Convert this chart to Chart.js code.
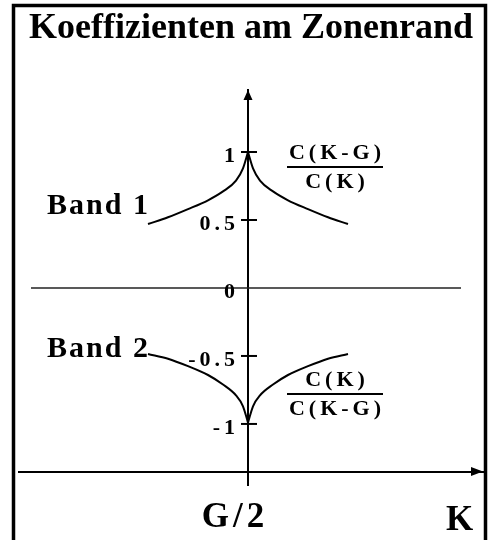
<!DOCTYPE html>
<html>
<head>
<meta charset="utf-8">
<style>
  html, body { margin: 0; padding: 0; background: #fff; }
  #wrap { width: 493px; height: 540px; }
</style>
</head>
<body>
<div id="wrap"><canvas id="myChart"></canvas></div>

<script src="https://cdn.jsdelivr.net/npm/chart.js"></script>

<script>
    // K relativ zum Zonenrand G/2 (links und rechts davon)
    const kLinks = [-1.0, -0.8, -0.6, -0.4, -0.25, -0.12, -0.05, 0];
    const kRechts = [0, 0.05, 0.12, 0.25, 0.4, 0.6, 0.8, 1.0];

    // Band 1: C(K-G)/C(K)
    const band1Links = [0.47, 0.52, 0.58, 0.645, 0.71, 0.79, 0.88, 1.0];
    const band1Rechts = [1.0, 0.88, 0.79, 0.71, 0.645, 0.58, 0.52, 0.47];

    // Band 2: C(K)/C(K-G)
    const band2Links = [-0.485, -0.52, -0.575, -0.64, -0.71, -0.79, -0.87, -0.99];
    const band2Rechts = [-0.99, -0.87, -0.79, -0.71, -0.64, -0.575, -0.52, -0.485];

    // Nulllinie
    const nullX = [-2.17, 2.13];
    const nullY = [0, 0];

    // Achsen
    const yTicks = [-1, -0.5, 0, 0.5, 1];
    const xTicks = [0];
    const xTickLabels = ['G/2'];
    const xAchseBei = -1.35;

    const serif = "'Liberation Serif', 'Times New Roman', serif";
    Chart.defaults.color = '#000';

    function punkte(xs, ys) {
        return xs.map(function (k, i) { return { x: k, y: ys[i] }; });
    }

    function kurve(xs, ys) {
        return {
            data: punkte(xs, ys),
            borderColor: '#000',
            borderWidth: 2,
            pointRadius: 0,
            fill: false,
            cubicInterpolationMode: 'monotone'
        };
    }

    function setzeTicks(werte) {
        return function (s) {
            s.ticks = werte.map(function (v) { return { value: v }; });
        };
    }

    function text(ctx, s, px, py, size, align, spacing) {
        ctx.font = 'bold ' + size + 'px ' + serif;
        ctx.textAlign = align;
        ctx.textBaseline = 'alphabetic';
        ctx.letterSpacing = (spacing || 0) + 'px';
        ctx.fillText(s, px, py);
        ctx.letterSpacing = '0px';
    }

    function bruch(ctx, oben, unten, cx, by) {
        ctx.lineWidth = 2;
        ctx.beginPath();
        ctx.moveTo(cx - 48, by);
        ctx.lineTo(cx + 48, by);
        ctx.stroke();
        text(ctx, oben, cx + 2, by - 8, 22, 'center', 4);
        text(ctx, unten, cx + 2, by + 21, 22, 'center', 4);
    }

    // Rahmen, Pfeilspitzen, Achsenstriche und Beschriftungen
    const zeichnung = {
        id: 'zeichnung',
        afterDatasetsDraw(chart) {
            // gesperrte Schrift fuer die Achsenbeschriftungen (ticks.z = 1)
            chart.ctx.letterSpacing = '4px';
        },
        afterDraw(chart) {
            const ctx = chart.ctx;
            const x = chart.scales.x;
            const y = chart.scales.y;
            const area = chart.chartArea;
            const x0 = x.getPixelForValue(0);
            const yA = y.getPixelForValue(xAchseBei);

            ctx.letterSpacing = '0px';
            ctx.save();
            ctx.strokeStyle = '#000';
            ctx.fillStyle = '#000';

            ctx.lineWidth = 3.5;
            ctx.beginPath();
            ctx.moveTo(13.5, chart.height + 2);
            ctx.lineTo(13.5, 5.5);
            ctx.lineTo(485.5, 5.5);
            ctx.lineTo(485.5, chart.height + 2);
            ctx.stroke();

            ctx.beginPath();
            ctx.moveTo(x0, area.top);
            ctx.lineTo(x0 - 4.5, area.top + 10);
            ctx.lineTo(x0 + 4.5, area.top + 10);
            ctx.closePath();
            ctx.fill();

            ctx.beginPath();
            ctx.moveTo(area.right, yA);
            ctx.lineTo(area.right - 12, yA - 4.5);
            ctx.lineTo(area.right - 12, yA + 4.5);
            ctx.closePath();
            ctx.fill();

            ctx.lineWidth = 2;
            y.ticks.forEach(function (t) {
                if (t.value === 0) return;
                const py = y.getPixelForValue(t.value);
                ctx.beginPath();
                ctx.moveTo(x0 - 7, py);
                ctx.lineTo(x0 + 9, py);
                ctx.stroke();
            });

            text(ctx, 'Band 1', x.getPixelForValue(-2.01), y.getPixelForValue(0.544), 30, 'left', 2);
            text(ctx, 'Band 2', x.getPixelForValue(-2.01), y.getPixelForValue(-0.507), 30, 'left', 2);
            bruch(ctx, 'C(K-G)', 'C(K)', x.getPixelForValue(0.87), y.getPixelForValue(0.89));
            bruch(ctx, 'C(K)', 'C(K-G)', x.getPixelForValue(0.87), y.getPixelForValue(-0.78));
            text(ctx, 'K', x.getPixelForValue(1.98), y.getPixelForValue(-1.78), 35, 'left', 0);

            ctx.restore();
        }
    };

    const ctx = document.getElementById('myChart');

    new Chart(ctx, {
        type: 'line',
        data: {
            datasets: [
                {
                    data: punkte(nullX, nullY),
                    borderColor: '#222',
                    borderWidth: 1.5,
                    pointRadius: 0
                },
                kurve(kLinks, band1Links),
                kurve(kRechts, band1Rechts),
                kurve(kLinks, band2Links),
                kurve(kRechts, band2Rechts)
            ]
        },
        options: {
            responsive: true,
            maintainAspectRatio: false,
            animation: false,
            events: [],
            layout: { padding: { left: 19, right: 10, top: 0, bottom: 55 } },
            plugins: {
                legend: { display: false },
                tooltip: { enabled: false },
                title: {
                    display: true,
                    text: 'Koeffizienten am Zonenrand',
                    color: '#000',
                    font: { family: serif, weight: 'bold', size: 36, lineHeight: 1.2 },
                    padding: { top: 7, bottom: 39.8 }
                }
            },
            scales: {
                x: {
                    type: 'linear',
                    min: -2.29,
                    max: 2.35,
                    position: { y: xAchseBei },
                    afterBuildTicks: setzeTicks(xTicks),
                    grid: { display: false, drawTicks: false },
                    border: { display: true, color: '#000', width: 2 },
                    ticks: {
                        z: 1,
                        autoSkip: false,
                        maxRotation: 0,
                        padding: 25,
                        labelOffset: -13,
                        font: { family: serif, weight: 'bold', size: 35 },
                        callback: function (v, i) { return xTickLabels[i]; }
                    }
                },
                y: {
                    type: 'linear',
                    min: -1.449,
                    max: 1.456,
                    position: { x: 0 },
                    afterBuildTicks: setzeTicks(yTicks),
                    grid: { display: false, drawTicks: false },
                    border: { display: true, color: '#000', width: 2 },
                    ticks: { display: false }
                },
                // Zahlen links neben der y-Achse
                yZahlen: {
                    axis: 'y',
                    type: 'linear',
                    min: -1.449,
                    max: 1.456,
                    position: { x: -0.09 },
                    afterBuildTicks: setzeTicks(yTicks),
                    grid: { display: false, drawTicks: false },
                    border: { display: false },
                    ticks: {
                        z: 1,
                        labelOffset: 4,
                        font: { family: serif, weight: 'bold', size: 22 },
                        callback: function (v) { return String(v); }
                    }
                }
            }
        },
        plugins: [zeichnung]
    });
</script>
</body>
</html>
